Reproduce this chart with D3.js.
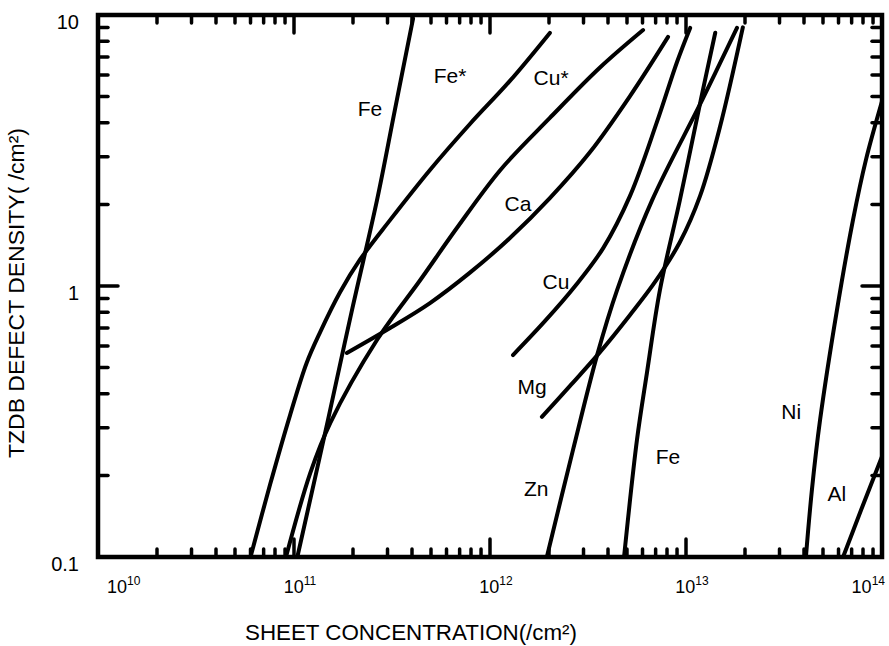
<!DOCTYPE html>
<html>
<head>
<meta charset="utf-8">
<script src="https://cdn.jsdelivr.net/npm/d3@7"></script>
<style>
  body { margin: 0; background: #fff; }
  text { font-family: 'Liberation Sans', Arial, sans-serif; fill: #000; }
</style>
</head>
<body>
<div id="graf"></div>
<script>
// !DATOS
const feX = [1.04e11, 1.49e11, 1.98e11, 2.65e11, 3.27e11, 4.05e11]
const feY = [0.1, 0.32, 0.82, 2.07, 4.46, 9.7]

const feStarX = [6.0e10, 7.55e10, 9.55e10, 1.16e11, 1.36e11, 1.72e11, 2.17e11, 3.09e11, 4.94e11, 7.9e11, 1.26e12, 2.02e12]
const feStarY = [0.1, 0.185, 0.334, 0.52, 0.676, 0.95, 1.25, 1.75, 2.68, 3.96, 5.7, 8.59]

const cuStarX = [9.1e10, 1.21e11, 1.53e11, 2.65e11, 4.4e11, 6.79e11, 1.13e12, 2.02e12, 3.64e12, 6.04e12]
const cuStarY = [0.1, 0.204, 0.312, 0.632, 1.05, 1.64, 2.68, 4.17, 6.4, 8.8]

const caX = [1.86e11, 3.09e11, 4.94e11, 7.9e11, 1.26e12, 2.02e12, 3.24e12, 5.18e12, 8.1e12]
const caY = [0.566, 0.7, 0.865, 1.12, 1.5, 2.11, 3.12, 5.02, 8.3]

const cuX = [1.31e12, 1.91e12, 2.72e12, 3.78e12, 5.18e12, 7.11e12, 9.0e12, 1.05e13]
const cuY = [0.556, 0.743, 1.0, 1.38, 2.15, 4.03, 6.71, 8.96]

const mgX = [1.84e12, 2.56e12, 3.64e12, 5.18e12, 6.95e12, 9.3e12, 1.18e13, 1.49e13, 1.95e13]
const mgY = [0.329, 0.428, 0.57, 0.782, 1.035, 1.45, 2.15, 3.86, 9.0]

const znX = [1.95e12, 2.65e12, 3.52e12, 4.45e12, 6.71e12, 1.21e13, 1.82e13]
const znY = [0.1, 0.248, 0.556, 0.966, 2.07, 4.86, 8.96]

const fe2X = [4.83e12, 5.62e12, 6.32e12, 7.36e12, 9.3e12, 1.19e13, 1.41e13]
const fe2Y = [0.1, 0.27, 0.478, 0.966, 2.07, 4.86, 8.6]

const niX = [4.09e13, 4.39e13, 4.83e13, 5.89e13, 7.11e13, 8.28e13, 1.0e14]
const niY = [0.1, 0.177, 0.32, 0.815, 1.75, 2.92, 4.8]

const alX = [6.33e13, 7.82e13, 1.0e14]
const alY = [0.1, 0.149, 0.235]

// etiquetas de las curvas (texto, x, y en unidades de datos)
const etiquetas = ['Fe', 'Fe*', 'Cu*', 'Ca', 'Cu', 'Mg', 'Zn', 'Fe', 'Ni', 'Al']
const etiquetasX = [2.44e11, 6.25e11, 2.05e12, 1.39e12, 2.17e12, 1.64e12, 1.72e12, 8.1e12, 3.44e13, 5.89e13]
const etiquetasY = [4.5, 5.96, 5.86, 2.02, 1.04, 0.424, 0.178, 0.234, 0.343, 0.171]

const xMayores = [1e10, 1e11, 1e12, 1e13, 1e14]
const xExponentes = ['10', '11', '12', '13', '14']
const yMayores = [10, 1, 0.1]
const yTextos = ['10', '1', '0.1']

const curvas = [
  [feX, feY],
  [feStarX, feStarY],
  [cuStarX, cuStarY],
  [caX, caY],
  [cuX, cuY],
  [mgX, mgY],
  [znX, znY],
  [fe2X, fe2Y],
  [niX, niY],
  [alX, alY],
]

const anchoTotal = 889
const altoTotal = 646

const margin = { top: 15, bottom: 89, left: 98, right: 7 }
const ancho = anchoTotal - margin.left - margin.right
const alto = altoTotal - margin.top - margin.bottom

const svg = d3
  .select('#graf')
  .append('svg')
  .attr('width', anchoTotal)
  .attr('height', altoTotal)

const g = svg
  .append('g')
  .attr('transform', `translate(${margin.left}, ${margin.top})`)

// !ESCALADORES
const x = d3.scaleLog().domain([1e10, 1e14]).range([0, ancho])
const y = d3.scaleLog().domain([0.1, 10]).range([alto, 0])

const esMayor = (v) => Math.abs(Math.log10(v) - Math.round(Math.log10(v))) < 1e-6
const xMenores = x.ticks().filter((v) => !esMayor(v))
const yMenores = y.ticks().filter((v) => !esMayor(v))

// !CURVAS
svg
  .append('defs')
  .append('clipPath')
  .attr('id', 'recorte')
  .append('rect')
  .attr('width', ancho)
  .attr('height', alto)

const linea = d3
  .line()
  .x((d) => x(d[0]))
  .y((d) => y(d[1]))
  .curve(d3.curveCatmullRom.alpha(0.5))

g.append('g')
  .attr('clip-path', 'url(#recorte)')
  .selectAll('path')
  .data(curvas)
  .enter()
  .append('path')
  .attr('d', (c) => linea(d3.zip(c[0], c[1])))
  .attr('fill', 'none')
  .attr('stroke', '#000')
  .attr('stroke-width', 4)
  .attr('stroke-linecap', 'round')
  .attr('stroke-linejoin', 'round')

g.append('rect')
  .attr('x', 0)
  .attr('y', 0)
  .attr('width', ancho)
  .attr('height', alto)
  .attr('fill', 'none')
  .attr('stroke', '#000')
  .attr('stroke-width', 4.5)

// !MARCAS (hacia dentro en los cuatro lados)
function marcas(valores, largo, lado) {
  const horizontal = lado === 'bottom' || lado === 'top'
  const base = { bottom: alto, top: 0, left: 0, right: ancho }[lado]
  const signo = lado === 'bottom' || lado === 'right' ? -1 : 1
  g.append('g')
    .selectAll('line')
    .data(valores)
    .enter()
    .append('line')
    .attr('x1', (d) => (horizontal ? x(d) : base))
    .attr('x2', (d) => (horizontal ? x(d) : base + signo * largo))
    .attr('y1', (d) => (horizontal ? base : y(d)))
    .attr('y2', (d) => (horizontal ? base + signo * largo : y(d)))
    .attr('stroke', '#000')
    .attr('stroke-width', 3.5)
    .attr('stroke-linecap', 'round')
}

marcas(xMenores, 8, 'bottom')
marcas(xMayores, 18, 'bottom')
marcas(xMenores, 8, 'top')
marcas(xMayores, 18, 'top')
marcas(yMenores, 10, 'left')
marcas(yMayores, 20, 'left')
marcas(yMenores, 10, 'right')
marcas(yMayores, 20, 'right')

// !TEXTOS DE LOS EJES
const xTexto = g
  .selectAll('.xtexto')
  .data(xMayores)
  .enter()
  .append('text')
  .attr('class', 'xtexto')
  .attr('x', (d, i) => x(d) + (i === 0 ? 9 : i === xMayores.length - 1 ? 3 : 6))
  .attr('y', alto + 36)
  .attr('font-size', 18)
  .attr('text-anchor', (d, i) => (i === 0 ? 'start' : i === xMayores.length - 1 ? 'end' : 'middle'))

xTexto.append('tspan').text('10')
xTexto
  .append('tspan')
  .attr('font-size', 12)
  .attr('dy', -8)
  .text((d, i) => xExponentes[i])

g.selectAll('.ytexto')
  .data(yMayores)
  .enter()
  .append('text')
  .attr('class', 'ytexto')
  .attr('x', -19)
  .attr('y', (d) => y(d) + 7)
  .attr('dy', '0.35em')
  .attr('font-size', 20)
  .attr('text-anchor', 'end')
  .text((d, i) => yTextos[i])

g.append('text')
  .attr('x', 313)
  .attr('y', alto + 83)
  .attr('font-size', 22)
  .attr('text-anchor', 'middle')
  .attr('textLength', 332)
  .attr('lengthAdjust', 'spacingAndGlyphs')
  .text('SHEET CONCENTRATION(/cm²)')

g.append('text')
  .attr('transform', `translate(-74, ${278}) rotate(-90)`)
  .attr('font-size', 22)
  .attr('text-anchor', 'middle')
  .attr('textLength', 330)
  .attr('lengthAdjust', 'spacingAndGlyphs')
  .text('TZDB DEFECT DENSITY( /cm²)')

// !ETIQUETAS DE LAS CURVAS
g.selectAll('.etiqueta')
  .data(etiquetas)
  .enter()
  .append('text')
  .attr('class', 'etiqueta')
  .attr('x', (d, i) => x(etiquetasX[i]))
  .attr('y', (d, i) => y(etiquetasY[i]))
  .attr('dy', '0.35em')
  .attr('font-size', 21)
  .attr('text-anchor', 'middle')
  .text((d) => d)
</script>
</body>
</html>
